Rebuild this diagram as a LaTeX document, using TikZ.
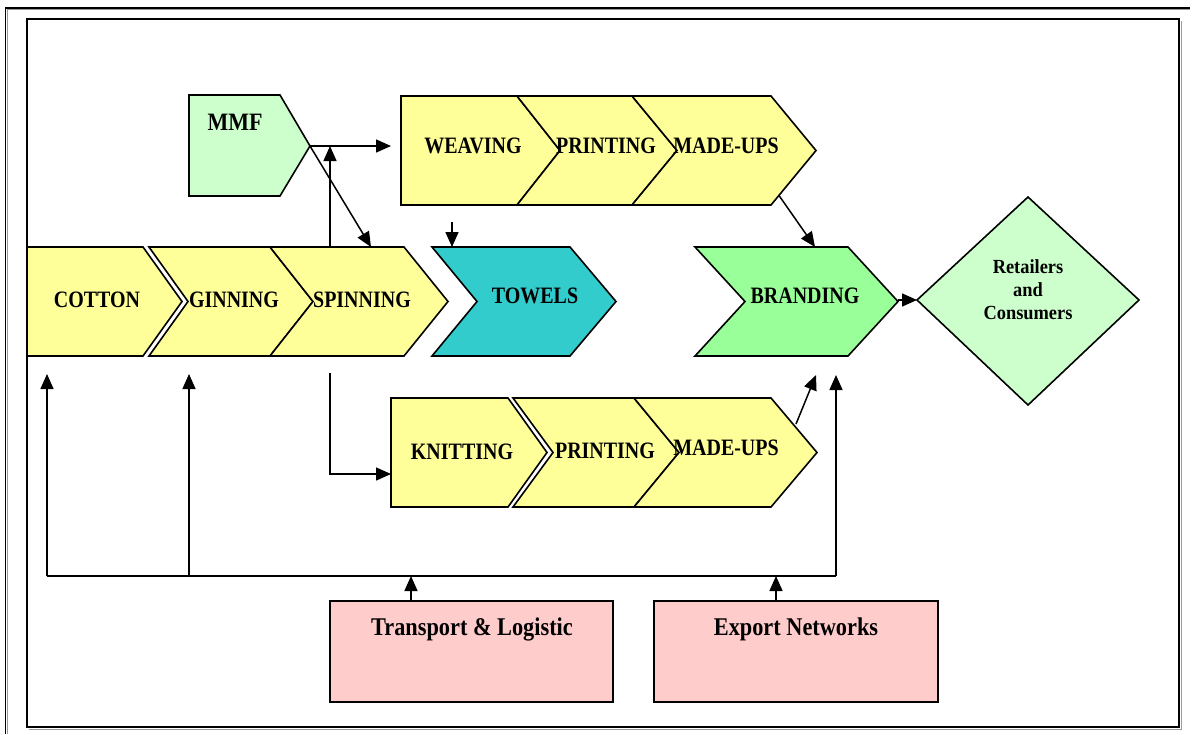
\documentclass[tikz,border=0pt]{standalone}
\usepackage{fontspec}
\setmainfont{Liberation Serif}
\usetikzlibrary{arrows.meta}
\definecolor{yel}{HTML}{FFFF99}
\definecolor{towelc}{HTML}{33CCCC}
\definecolor{lgreen}{HTML}{CCFFCC}
\definecolor{mgreen}{HTML}{99FF99}
\definecolor{pinkc}{HTML}{FFCCCC}
\definecolor{shadow}{HTML}{999999}
\newcommand{\cnd}[2]{\scalebox{#1}[1]{#2}}
\begin{document}
\begin{tikzpicture}[x=1pt,y=-1pt,
  shp/.style={draw=black, line width=1.6pt, line join=miter},
  lbl/.style={font=\fontsize{23.5}{26}\selectfont\bfseries, inner sep=0pt, anchor=base},
  boxlbl/.style={font=\fontsize{25.5}{28}\selectfont\bfseries, inner sep=0pt, anchor=base},
  conn/.style={line width=1.5pt, -{Triangle[length=15pt,width=13pt]}},
  plainline/.style={line width=1.5pt}]
\useasboundingbox (0,0) rectangle (1193,734);
\fill[white] (0,0) rectangle (1193,734);
% outer frame (top and left visible)
\draw[shadow, line width=1pt] (7.5,734) -- (7.5,9.5) -- (1190,9.5);
\draw[line width=1.6pt] (5.5,734) -- (5.5,8) -- (1190,8);
% inner frame
\draw[shadow, line width=1pt] (29,729) -- (1181,729) -- (1181,21);
\draw[line width=1.6pt] (27,19) rectangle (1179,727);

% MMF
\draw[shp, fill=lgreen] (189,95) -- (280,95) -- (310,146) -- (280,196) -- (189,196) -- cycle;
\node[font=\fontsize{25}{28}\selectfont\bfseries, inner sep=0pt, anchor=base] (mmf) at (235,130) {\cnd{.88}{MMF}};

% weaving row
\draw[shp, fill=yel] (401,96) -- (517,96) -- (560,150.5) -- (517,205) -- (401,205) -- cycle;
\draw[shp, fill=yel] (517,96) -- (632,96) -- (677,150.5) -- (632,205) -- (517,205) -- (560,150.5) -- cycle;
\draw[shp, fill=yel] (632,96) -- (771,96) -- (816,150.5) -- (771,205) -- (632,205) -- (677,150.5) -- cycle;
\node[lbl] (weaving) at (473,153) {\cnd{.85}{WEAVING}};
\node[lbl] (printw) at (606,153) {\cnd{.85}{PRINTING}};
\node[lbl] (madew) at (726,153) {\cnd{.85}{MADE-UPS}};

% cotton row
\draw[shp, fill=yel] (27,247) -- (143,247) -- (182,301.5) -- (143,356) -- (27,356) -- cycle;
\draw[shp, fill=yel] (149,247) -- (270,247) -- (313,301.5) -- (270,356) -- (149,356) -- (188,301.5) -- cycle;
\draw[shp, fill=yel] (270,247) -- (404,247) -- (448,301.5) -- (404,356) -- (270,356) -- (313,301.5) -- cycle;
\node[lbl] (cotton) at (97,307) {\cnd{.85}{COTTON}};
\node[lbl] (ginning) at (234,307) {\cnd{.85}{GINNING}};
\node[lbl] (spinning) at (362,307) {\cnd{.85}{SPINNING}};

% towels
\draw[shp, fill=towelc] (432,247) -- (570,247) -- (616,301.5) -- (570,356) -- (432,356) -- (477,301.5) -- cycle;
\node[lbl] (towels) at (535,303) {\cnd{.85}{TOWELS}};

% branding
\draw[shp, fill=mgreen] (695,247) -- (848,247) -- (898,301.5) -- (848,356) -- (695,356) -- (745,301.5) -- cycle;
\node[lbl] (branding) at (805,303) {\cnd{.85}{BRANDING}};

% diamond
\draw[shp, fill=lgreen] (917,300) -- (1028,197) -- (1139,300) -- (1028,405) -- cycle;
\node[font=\fontsize{20}{23}\selectfont\bfseries, inner sep=0pt, align=center] (retail) at (1028,289.5)
  {\cnd{.92}{Retailers}\\\cnd{.92}{and}\\\cnd{.92}{Consumers}};

% knitting row
\draw[shp, fill=yel] (391,398) -- (508,398) -- (547,452.5) -- (508,507) -- (391,507) -- cycle;
\draw[shp, fill=yel] (513,398) -- (634,398) -- (679,452.5) -- (634,507) -- (513,507) -- (553,452.5) -- cycle;
\draw[shp, fill=yel] (634,398) -- (771,398) -- (817,452.5) -- (771,507) -- (634,507) -- (679,452.5) -- cycle;
\node[lbl] (knitting) at (462,459) {\cnd{.85}{KNITTING}};
\node[lbl] (printk) at (605,458) {\cnd{.85}{PRINTING}};
\node[lbl] (madek) at (726,455) {\cnd{.85}{MADE-UPS}};

% bottom boxes
\draw[shp, fill=pinkc] (330,601) rectangle (613,702);
\draw[shp, fill=pinkc] (654,601) rectangle (938,702);
\node[boxlbl] (transport) at (472,635) {\cnd{.875}{Transport \& Logistic}};
\node[boxlbl] (export) at (796,635) {\cnd{.875}{Export Networks}};

% connector end points
\coordinate (mmftip) at (310,146);
\coordinate (weavin) at (391,146);
\coordinate (spintop) at (330,247);
\coordinate (spinmmf) at (330,146);
\coordinate (spinin) at (371,247);
\coordinate (towelsrc) at (452,222);
\coordinate (towelin) at (452,247);
\coordinate (madewout) at (779,195.5);
\coordinate (brandin) at (815,247);
\coordinate (brandtip) at (898,300);
\coordinate (diamin) at (917,300);
\coordinate (spinbot) at (330,373);
\coordinate (knitcorner) at (330,474);
\coordinate (knitin) at (391,474);
\coordinate (busL) at (47,576);
\coordinate (busG) at (189,576);
\coordinate (busR) at (836,576);
\coordinate (cottonin) at (47,374);
\coordinate (ginin) at (189,374);
\coordinate (brandbot) at (836,375);
\coordinate (madekout) at (796,424);
\coordinate (brandbot2) at (816,375);
\coordinate (transtop) at (411,601);
\coordinate (transbus) at (411,576);
\coordinate (exptop) at (776,601);
\coordinate (expbus) at (776,576);

% connectors
\draw[conn] (mmftip) -- (weavin);
\draw[conn] (spintop) -- (spinmmf);
\draw[conn] (mmftip) -- (spinin);
\draw[conn] (towelsrc) -- (towelin);
\draw[conn] (madewout) -- (brandin);
\draw[conn] (brandtip) -- (diamin);
\draw[conn] (spinbot) -- (knitcorner) -- (knitin);
\draw[plainline] (busL) -- (busR);
\draw[conn] (busL) -- (cottonin);
\draw[conn] (busG) -- (ginin);
\draw[conn] (busR) -- (brandbot);
\draw[conn] (madekout) -- (brandbot2);
\draw[conn] (transtop) -- (transbus);
\draw[conn] (exptop) -- (expbus);
\end{tikzpicture}
\end{document}
